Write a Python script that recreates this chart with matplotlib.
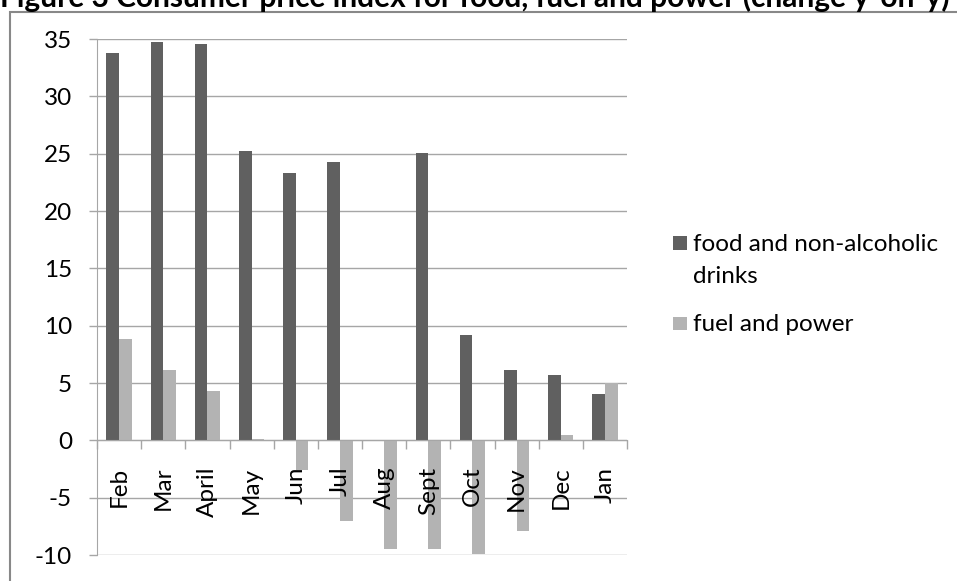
import numpy as np
import matplotlib
matplotlib.use('Agg')
import matplotlib.pyplot as plt
from matplotlib.patches import Rectangle

plt.rcParams['font.family'] = ['Lato', 'DejaVu Sans']
plt.rcParams['axes.unicode_minus'] = False

# data
months = ['Feb', 'Mar', 'April', 'May', 'Jun', 'Jul', 'Aug', 'Sept', 'Oct', 'Nov', 'Dec', 'Jan']
food = [33.8, 34.7, 34.6, 25.2, 23.3, 24.3, 0.0, 25.1, 9.2, 6.1, 5.7, 4.0]
fuel = [8.8, 6.1, 4.3, 0.1, -2.6, -7.0, -9.5, -9.5, -9.9, -7.9, 0.5, 5.0]
series_names = ['food and non-alcoholic\ndrinks', 'fuel and power']
title = 'Figure 3 Consumer price index for food, fuel and power (change y-on-y)'

dark = '#606060'
light = '#b3b3b3'
grid_col = '#a6a6a6'
fs = 17.5
W, H = 957, 581

fig = plt.figure(figsize=(W/100, H/100), dpi=100)
ax = fig.add_axes([97/W, 1-555/H, 530/W, 516/H])

x = np.arange(len(months))
w = 1/3.5
ax.bar(x - w/2, food, width=w, color=dark, zorder=2)
ax.bar(x + w/2, fuel, width=w, color=light, zorder=2)

ax.set_xlim(-0.5, len(months) - 0.5)
ax.set_ylim(-10, 35)
ax.set_yticks(range(-10, 36, 5))
# gridlines behind the bars
for v in range(-10, 36, 5):
    ax.axhline(v, color=grid_col, lw=1.0, zorder=0.5)

for s in ['top', 'right']:
    ax.spines[s].set_visible(False)
ax.spines['bottom'].set_position(('data', 0))
ax.spines['bottom'].set_color(grid_col)
ax.spines['left'].set_color(grid_col)
ax.spines['bottom'].set_zorder(4)
ax.xaxis.set_zorder(5)

ax.set_xticks(x)
ax.set_xticklabels(months, rotation=90, fontsize=fs)
ax.set_xticks(np.arange(-0.5, len(months)), minor=True)
ax.tick_params(axis='x', which='major', length=0, pad=19)
ax.tick_params(axis='x', which='minor', length=6.5, color=grid_col, width=1)
ax.tick_params(axis='y', length=6, color=grid_col, width=1, pad=12, labelsize=fs)

# legend: square next to the first line of each entry
entry_base = [251, 331]
for name, col, yb in zip(series_names, [dark, light], entry_base):
    fig.add_artist(Rectangle((673/W, 1-(yb-1)/H), 13.5/W, 13.5/H, transform=fig.transFigure,
                             color=col, lw=0))
    for k, line in enumerate(name.split('\n')):
        fig.text(693/W, 1-(yb + 32*k)/H, line, fontsize=fs, va='baseline', ha='left')

fig.text(0.0, 1 - 7/H, title, fontsize=21.5, fontweight='bold', va='baseline', ha='left')

fig.add_artist(Rectangle((10/W, -0.1), 1.0, 1 - 12/H + 0.1, transform=fig.transFigure,
                         fill=False, edgecolor='#888888', lw=1.5))

fig.savefig('out.png', dpi=100)
